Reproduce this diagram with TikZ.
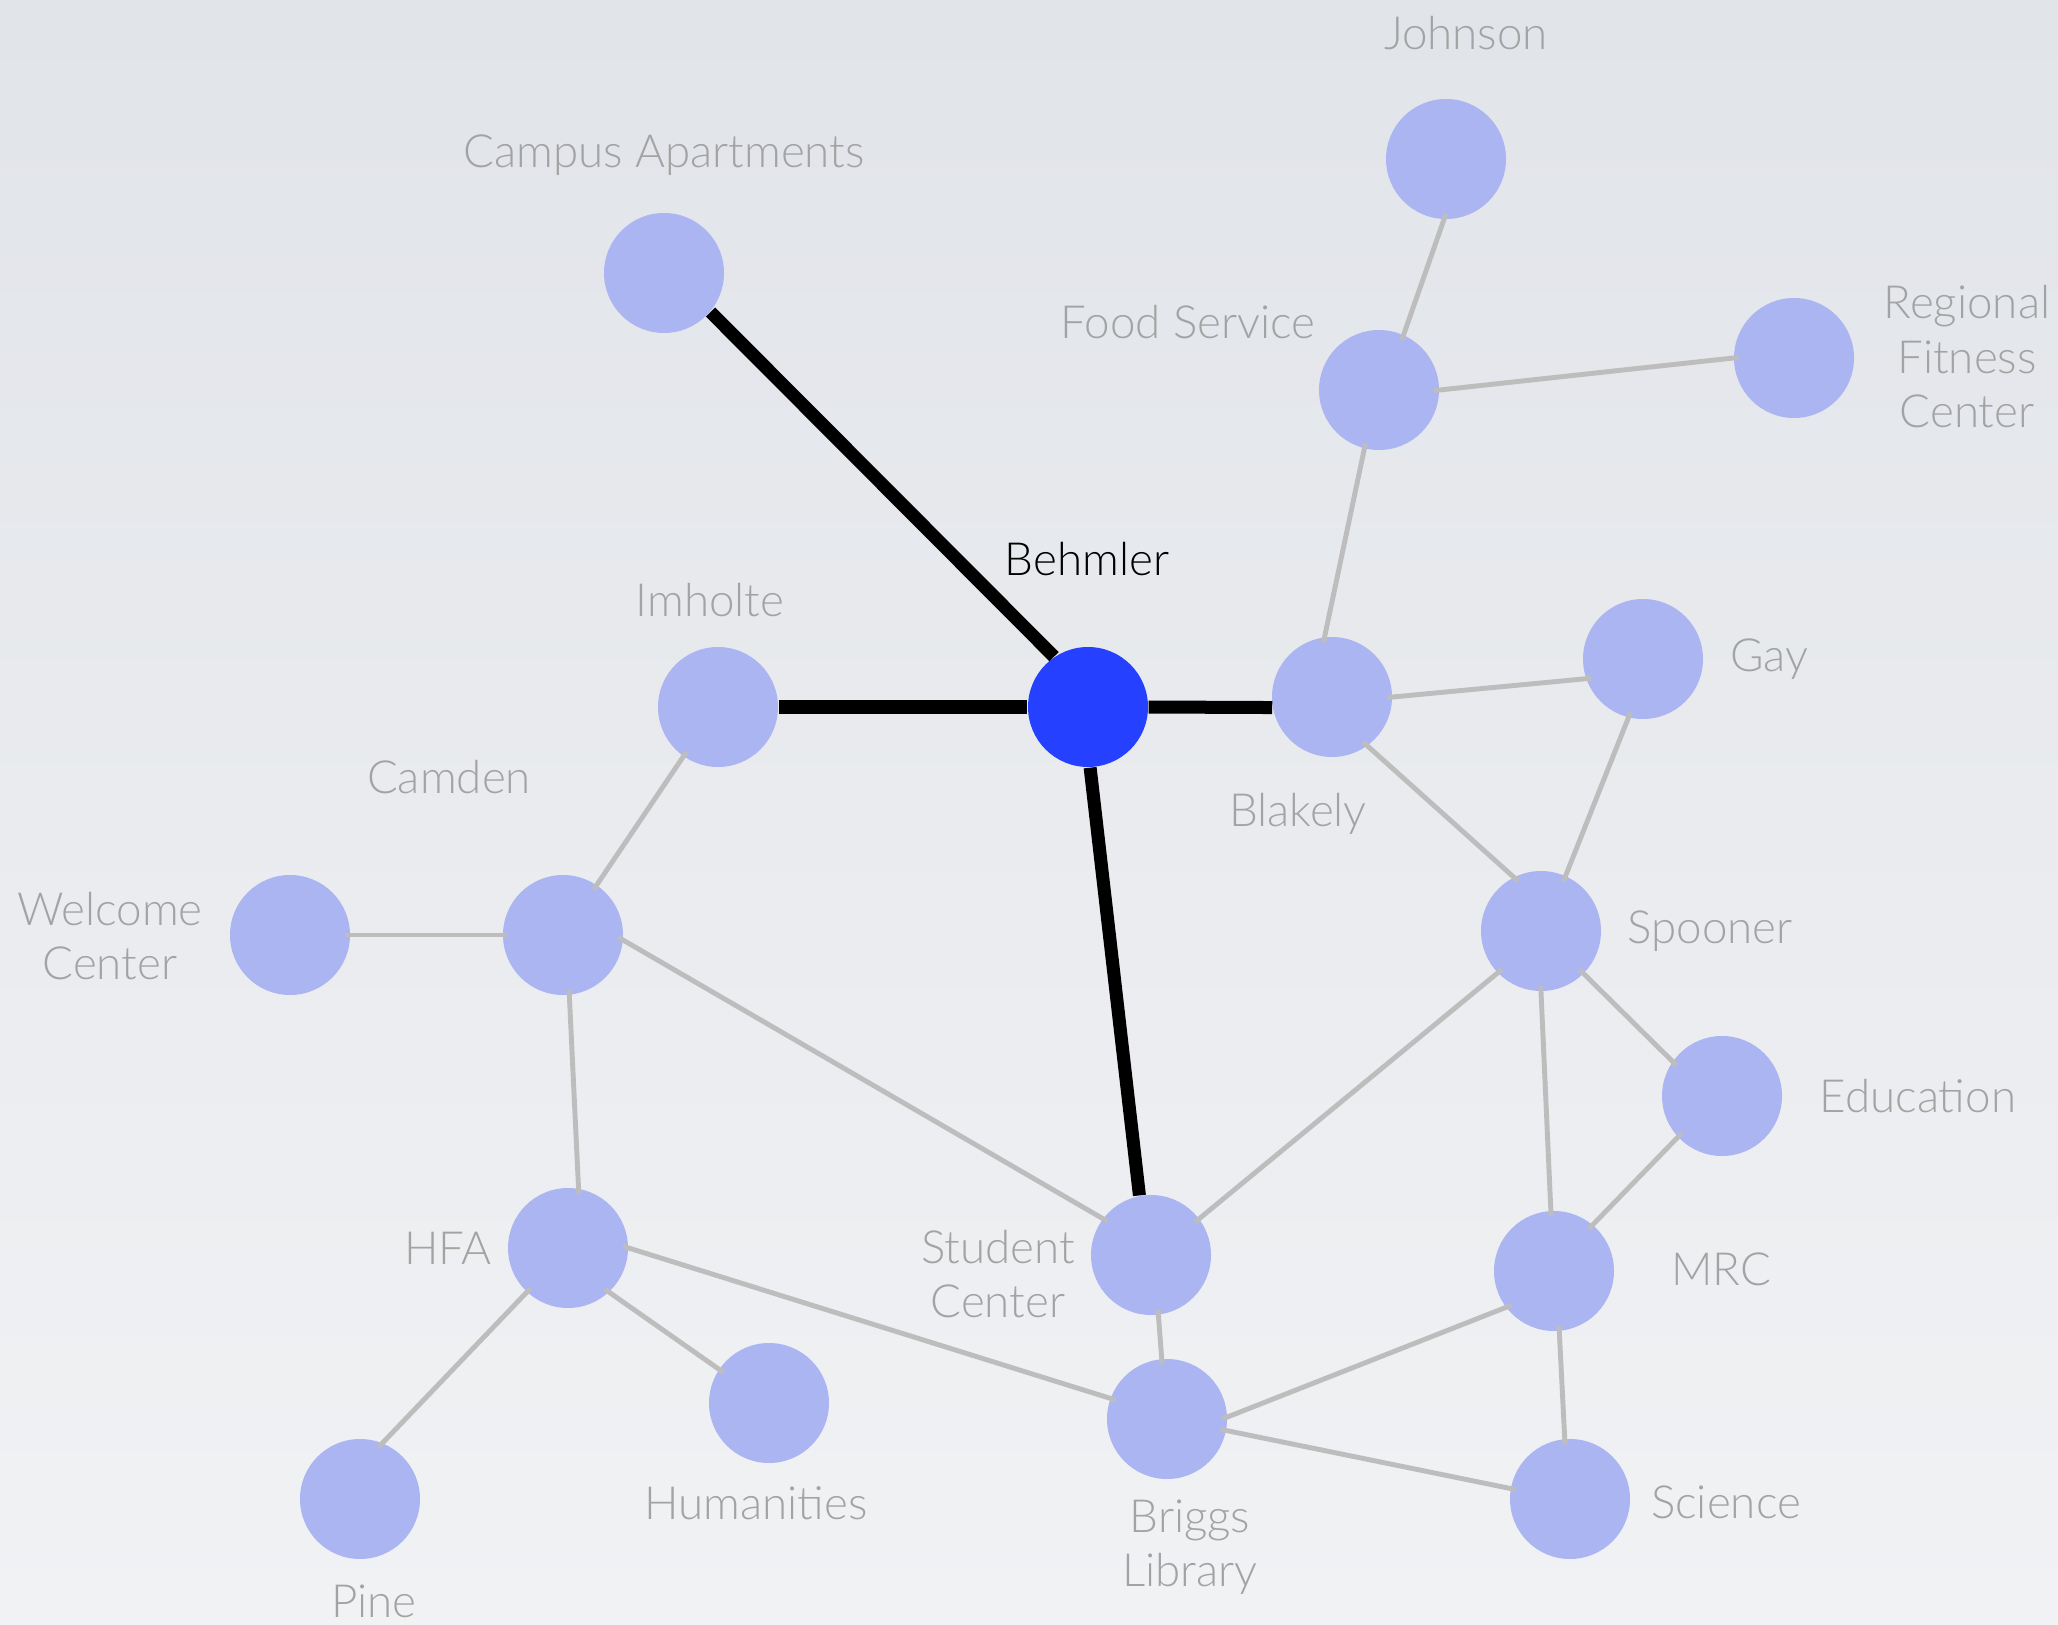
\documentclass[tikz,border=0pt]{standalone}
\usepackage{fontspec}
\setmainfont{Lato Light}
\definecolor{bgtop}{HTML}{E1E4E9}
\definecolor{bgbottom}{HTML}{F1F2F4}
\definecolor{hallfill}{HTML}{ABB5F2}
\definecolor{hubfill}{HTML}{2541FF}
\definecolor{labelgray}{HTML}{A3A3A3}
\definecolor{linkgray}{HTML}{BDBDBD}
\tikzset{
	campuspicture/.style = {
		x = 1cm, y = 1cm,
		link/.style = {
			draw = linkgray,
			line width = 1.4pt,
			shorten <= -0.6mm,
			shorten >= -0.6mm
		},
		hublink/.style = {
			draw = black,
			line width = 3.7pt
		}
	},
	hall/.style = {
		circle,
		fill = hallfill,
		minimum size = 1.2cm,
		inner sep = 0pt
	},
	hub/.style = {
		hall,
		fill = hubfill
	},
	hallname/.style = {
		text = labelgray,
		font = \fontsize{13}{15.5}\selectfont,
		align = center,
		inner sep = 0pt
	},
	hubname/.style = {
		hallname,
		text = black
	}
}

\begin{document}
\begin{tikzpicture}[campuspicture]
	\shade[top color = bgtop, bottom color = bgbottom] (0,0) rectangle (20.58,16.24);
	\useasboundingbox (0,0) rectangle (20.58,16.24);

	% halls
	\node[hall] (Jo) at (14.46,14.65) {};
	\node[hall] (CA) at (6.64,13.51) {};
	\node[hall] (FS) at (13.79,12.34) {};
	\node[hall] (RF) at (17.94,12.66) {};
	\node[hub] (Be) at (10.88,9.17) {};
	\node[hall] (Im) at (7.18,9.17) {};
	\node[hall] (Bl) at (13.32,9.27) {};
	\node[hall] (Ga) at (16.43,9.65) {};
	\node[hall] (Ca) at (5.63,6.89) {};
	\node[hall] (WC) at (2.90,6.89) {};
	\node[hall] (Sp) at (15.41,6.93) {};
	\node[hall] (Ed) at (17.22,5.28) {};
	\node[hall] (HF) at (5.68,3.76) {};
	\node[hall] (SC) at (11.51,3.69) {};
	\node[hall] (MR) at (15.54,3.53) {};
	\node[hall] (Hu) at (7.69,2.21) {};
	\node[hall] (BL) at (11.67,2.05) {};
	\node[hall] (Pi) at (3.60,1.25) {};
	\node[hall] (Sc) at (15.70,1.25) {};

	% names
	\node[hallname] (Jo-name) at (14.66,15.91) {Johnson};
	\node[hallname] (CA-name) at (6.64,14.69) {Campus Apartments};
	\node[hallname] (FS-name) at (11.88,13.02) {Food Service};
	\node[hallname] (RF-name) at (19.67,12.67) {Regional\\Fitness\\Center};
	\node[hubname] (Be-name) at (10.87,10.65) {Behmler};
	\node[hallname] (Im-name) at (7.10,10.24) {Imholte};
	\node[hallname] (Ga-name) at (17.69,9.65) {Gay};
	\node[hallname] (Bl-name) at (12.98,8.10) {Blakely};
	\node[hallname] (Ca-name) at (4.49,8.47) {Camden};
	\node[hallname] (WC-name) at (1.10,6.88) {Welcome\\Center};
	\node[hallname] (Sp-name) at (17.10,6.93) {Spooner};
	\node[hallname] (Ed-name) at (19.18,5.28) {Education};
	\node[hallname] (HF-name) at (4.48,3.76) {HFA};
	\node[hallname] (SC-name) at (9.98,3.50) {Student\\Center};
	\node[hallname] (MR-name) at (17.21,3.55) {MRC};
	\node[hallname] (Hu-name) at (7.56,1.21) {Humanities};
	\node[hallname] (BL-name) at (11.90,0.77) {Briggs\\Library};
	\node[hallname] (Pi-name) at (3.74,0.23) {Pine};
	\node[hallname] (Sc-name) at (17.26,1.22) {Science};

	\begin{scope}[every path/.style = link]
		\path (Jo.-92) -- (FS.66);
		\path (FS.east) -- (RF.west);
		\path (FS.-104) -- (Bl.97);
		\path (Bl.east) -- (Ga.-161);
		\path (Bl.-54) -- (Sp.117);
		\path (Ga.-104) -- (Sp.66);
		\path (Im.-125) -- (Ca.56);
		\path (WC.east) -- (Ca.west);
		\path (Ca.-84) -- (HF.80);
		\path (Ca.-5) -- (SC.143);
		\path (Sp.-136) -- (SC.37);
		\path (Sp.-45) -- (Ed.145);
		\path (Sp.-90) -- (MR.93);
		\path (Ed.-137) -- (MR.50);
		\path (HF.-133) -- (Pi.68);
		\path (HF.-47) -- (Hu.146);
		\path (HF.east) -- (BL.160);
		\path (SC.-83) -- (BL.95);
		\path (BL.2) -- (MR.-143);
		\path (MR.-85) -- (Sc.95);
		\path (BL.-11) -- (Sc.170);
	\end{scope}

	\begin{scope}[every path/.style = hublink]
		\path (CA.-40) -- (Be.124);
		\path (Im.east) -- (Be.west);
		\path (Be.east) -- (Bl.190);
		\path (Be.-88) -- (SC.101);
	\end{scope}
\end{tikzpicture}
\end{document}
